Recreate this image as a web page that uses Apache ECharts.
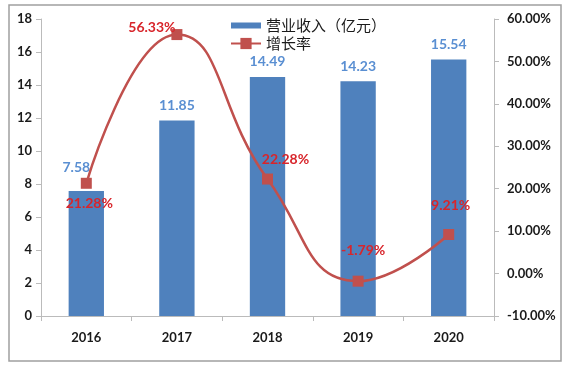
<!DOCTYPE html>
<html>
<head>
<meta charset="utf-8">
<script src="https://cdn.jsdelivr.net/npm/echarts@6/dist/echarts.min.js"></script>
<style>html,body{margin:0;padding:0;background:#fff;}#c{width:576px;height:372px;}</style>
</head>
<body>
<div id="c"></div>
<script>
const categories = ['2016', '2017', '2018', '2019', '2020'];
const revenue = [7.58, 11.85, 14.49, 14.23, 15.54];
const growth = [21.28, 56.33, 22.28, -1.79, 9.21];
const revenueName = '营业收入（亿元）';
const growthName = '增长率';

const growthLabelOffsets = [[3, 20], [-25, -7], [18, -20], [5, -31], [2, -29]];
const revenueLabelOffsets = [[-10, -8], [0, 0], [0, 0], [0, 0], [0, 0]];

const chart = echarts.init(document.getElementById('c'));
const axisFont = { fontFamily: 'Lato', fontWeight: 'bold', fontSize: 13, color: '#1a1a1a' };

chart.setOption({
  animation: false,
  backgroundColor: '#fff',
  graphic: [{
    type: 'rect', shape: { x: 9, y: 5, width: 552, height: 356 },
    style: { fill: 'none', stroke: '#a0a0a0', lineWidth: 1.5 }, silent: true
  }],
  grid: { left: 41, right: 82, top: 19, bottom: 56 },
  legend: {
    orient: 'vertical', left: 225, top: 13, itemWidth: 30, itemHeight: 14, itemGap: 3,
    textStyle: { fontFamily: 'Noto Sans CJK SC', fontSize: 15, color: '#1a1a1a' },
    data: [
      { name: revenueName, icon: 'path://M0,0 H30 V6 H0 Z' },
      { name: growthName }
    ]
  },
  xAxis: {
    type: 'category', data: categories,
    axisLine: { lineStyle: { color: '#bbb', width: 1 } },
    axisTick: { show: true, length: 5, lineStyle: { color: '#bbb' } },
    axisLabel: Object.assign({ margin: 15 }, axisFont)
  },
  yAxis: [{
    type: 'value', min: 0, max: 18, interval: 2,
    axisLine: { show: true, lineStyle: { color: '#bbb' } },
    axisTick: { show: true, length: 5, lineStyle: { color: '#bbb' } },
    splitLine: { show: false },
    axisLabel: Object.assign({ margin: 9 }, axisFont)
  }, {
    type: 'value', min: -10, max: 60, interval: 10, position: 'right',
    axisLine: { show: true, lineStyle: { color: '#bbb' } },
    axisTick: { show: true, length: 5, lineStyle: { color: '#bbb' } },
    splitLine: { show: false },
    axisLabel: Object.assign({ margin: 13, formatter: v => v.toFixed(2) + '%' }, axisFont)
  }],
  series: [{
    name: revenueName, type: 'bar', barWidth: '39%', yAxisIndex: 0,
    itemStyle: { color: '#4F81BD' },
    data: revenue.map((v, i) => ({
      value: v,
      label: { offset: revenueLabelOffsets[i] }
    })),
    label: {
      show: true, position: 'top', distance: 8,
      fontFamily: 'Lato', fontWeight: 'bold', fontSize: 14, color: '#5A8FD2',
      formatter: p => p.value.toFixed(2)
    },
    z: 1
  }, {
    name: growthName, type: 'line', yAxisIndex: 1, smooth: 0.5,
    symbol: 'rect', symbolSize: 11,
    lineStyle: { color: '#C0504D', width: 2.5 },
    itemStyle: { color: '#C0504D' },
    data: growth.map((v, i) => ({
      value: v,
      label: { offset: growthLabelOffsets[i] }
    })),
    label: {
      show: true, position: 'inside',
      fontFamily: 'Lato', fontWeight: 'bold', fontSize: 14, color: '#D8252B',
      formatter: p => p.value.toFixed(2) + '%'
    },
    z: 3
  }]
});
</script>
</body>
</html>
